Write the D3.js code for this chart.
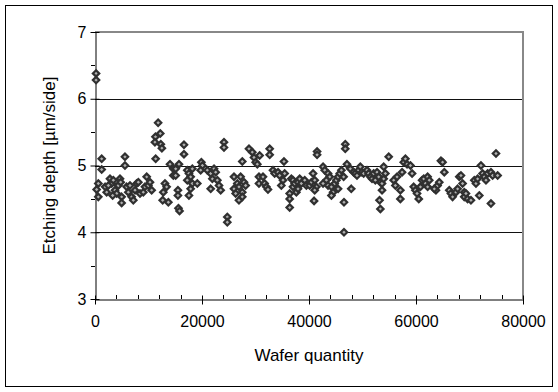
<!DOCTYPE html>
<html>
<head>
<meta charset="utf-8">
<script src="https://cdn.jsdelivr.net/npm/d3@7"></script>
<style>
  body { margin: 0; background: #fff; }
  svg { display: block; font-family: "Liberation Sans", Arial, sans-serif; }
</style>
</head>
<body>
<svg id="chart" width="558" height="392"></svg>
<script>
// wafer count vs etching depth
const waferQty = [
  200, 200, 1250, 1250, 620, 310, 620, 2180, 2800, 3120, 3740, 3430, 4670, 4360, 4800, 4980, 4980,
  5600, 5600, 4050, 1900, 2500, 3300, 5920, 6230, 6540, 6850, 7160, 7480, 7790, 8100, 8410, 9030,
  9340, 9660, 9970, 10280, 10590, 11340, 11800, 11300, 12200, 11200, 12300, 12500, 13080, 13390,
  12770, 12650, 13710, 14020, 14640, 14640,
  16630, 16630, 15700, 15080, 15080, 15500, 15500, 15600, 15800, 17250, 17560, 17880, 18190, 17250,
  18190, 19120, 17880, 17560, 19880, 20070, 19750, 21000, 21630, 22250, 22560, 21940, 22870, 23180,
  23490, 21630, 24110, 24110, 24730, 24730, 25980, 26600, 25980, 26910, 27220, 27850, 28160, 27530,
  26910, 27530, 26290, 27530, 28780, 29400, 29720, 30030, 30340, 30650, 30650,
  30770, 32650, 32650, 31400, 31710, 32020, 32330, 33270, 33580, 34210, 34520, 35450, 35140, 34830,
  35320, 36390, 36390, 36390, 36700, 37010, 37010, 37330, 37640, 37950, 37950, 38260, 38570, 39200,
  39510, 40130, 40450, 40760, 41070, 41380, 41070, 40950, 41510, 41510, 42630, 42940, 43560, 43880,
  43250, 42630, 43560, 44190, 44500, 44190, 44810, 45120, 45440, 45750, 45440, 46060,
  46780, 46780, 47090, 46470, 46540, 46540, 47720, 48340, 48660, 49280, 48970, 49590, 49900, 50220,
  50840, 51160, 51470, 51780, 52090, 52400, 52720, 53030, 53340, 53650, 53960, 54280, 53960, 53650,
  47900, 53180, 53340, 54900, 55830, 56150, 56460, 57080, 57080, 57400, 57710, 58020, 58330, 58960,
  59270, 59580, 59890, 60200, 60520, 60830, 61140, 61450, 61770,
  62170, 62170, 62480, 63730, 64040, 64350, 63420, 64660, 64970, 65290, 66220, 66530, 66840, 67460,
  67780, 68090, 68400, 68710, 69020, 69020, 69340, 69650, 70270, 70900, 71210, 71520, 71830, 72140,
  72450, 72760, 73080, 73390, 74010, 74320, 74950, 75260, 74010
];
const etchDepth = [
  6.38, 6.28, 5.10, 4.94, 4.73, 4.64, 4.53, 4.60, 4.80, 4.73, 4.63, 4.78, 4.80, 4.70, 4.75, 4.53, 4.44,
  5.13, 5.00, 4.58, 4.68, 4.70, 4.55, 4.68, 4.60, 4.70, 4.53, 4.48, 4.63, 4.73, 4.75, 4.58, 4.60,
  4.68, 4.83, 4.70, 4.75, 4.63, 5.10, 5.64, 5.43, 5.48, 5.35, 5.32, 5.26, 4.73, 4.68,
  4.60, 4.48, 4.45, 5.02, 4.95, 4.85,
  5.31, 5.17, 5.02, 4.95, 4.85, 4.63, 4.55, 4.36, 4.32, 4.93, 4.88, 4.83, 4.95, 4.78,
  4.73, 4.73, 4.65, 4.55, 5.05, 5.00, 4.93, 4.93, 4.88, 4.95, 4.90, 4.80, 4.78, 4.70,
  4.63, 4.65, 5.35, 5.27, 4.23, 4.15, 4.83, 4.73, 4.65, 4.68, 4.83, 4.75, 4.70, 4.60,
  4.48, 4.53, 4.58, 5.06, 5.25, 5.20, 5.12, 5.05, 5.02, 4.83, 4.73,
  5.15, 5.25, 5.16, 4.83, 4.73, 4.68, 4.64, 4.93, 4.88, 4.90, 4.85, 4.88, 4.78, 4.70,
  5.06, 4.58, 4.50, 4.37, 4.80, 4.78, 4.68, 4.73, 4.60, 4.75, 4.65, 4.80, 4.73, 4.78,
  4.70, 4.70, 4.75, 4.88, 4.78, 4.68, 4.63, 4.47, 5.21, 5.16, 4.98, 4.93, 4.88, 4.83,
  4.78, 4.73, 4.70, 4.68, 4.60, 4.55, 4.73, 4.78, 4.83, 4.88, 4.65, 4.93,
  5.32, 5.25, 5.02, 4.83, 4.45, 4.00, 4.95, 4.90, 4.88, 4.93, 4.85, 4.98, 4.90, 4.88,
  4.93, 4.88, 4.83, 4.80, 4.88, 4.78, 4.90, 4.83, 4.75, 4.73, 4.98, 4.88, 4.80, 4.63,
  4.65, 4.48, 4.35, 5.13, 4.78, 4.70, 4.83, 4.63, 4.50, 4.90, 5.05, 5.10, 5.02, 5.00,
  4.88, 4.68, 4.63, 4.58, 4.50, 4.68, 4.78, 4.80, 4.73,
  4.83, 4.68, 4.78, 4.63, 4.70, 4.75, 4.65, 5.07, 5.05, 4.90, 4.63, 4.58, 4.53, 4.60,
  4.65, 4.83, 4.85, 4.73, 4.60, 4.53, 4.58, 4.50, 4.48, 4.78, 4.73, 4.80, 4.55, 5.00,
  4.88, 4.83, 4.78, 4.88, 4.90, 4.85, 5.18, 4.85, 4.43
];
const xTicks = [0, 20000, 40000, 60000, 80000];
const yTicks = [3, 4, 5, 6, 7];
const gridValues = [4, 5, 6];

const svg = d3.select("#chart");
const plotLeft = 95, plotRight = 523, plotTop = 32, plotBottom = 299;

// outer frame
svg.append("rect")
  .attr("x", 5.5).attr("y", 5.5)
  .attr("width", 547).attr("height", 381)
  .attr("fill", "none").attr("stroke", "#000");

const x = d3.scaleLinear().domain([0, 80000]).range([plotLeft, plotRight]);
const y = d3.scaleLinear().domain([3, 7]).range([plotBottom, plotTop]);

// gridlines
svg.append("g").selectAll("line")
  .data(gridValues)
  .enter().append("line")
  .attr("x1", plotLeft).attr("x2", plotRight)
  .attr("y1", d => Math.round(y(d)) + 0.5)
  .attr("y2", d => Math.round(y(d)) + 0.5)
  .attr("stroke", "#111");

// plot border top/right in gray
svg.append("path")
  .attr("d", `M${plotLeft},${plotTop} H${plotRight} V${plotBottom}`)
  .attr("fill", "none")
  .attr("stroke", "#888")
  .attr("stroke-width", 2);

// minor ticks
const yMinor = d3.range(3.5, 7, 1);
svg.append("g").selectAll("line")
  .data(yMinor)
  .enter().append("line")
  .attr("x1", plotLeft - 4).attr("x2", plotLeft)
  .attr("y1", d => Math.round(y(d)) + 0.5)
  .attr("y2", d => Math.round(y(d)) + 0.5)
  .attr("stroke", "#000");

const xMinor = d3.range(4000, 80000, 4000).filter(d => d % 20000 !== 0);
svg.append("g").selectAll("line")
  .data(xMinor)
  .enter().append("line")
  .attr("x1", d => Math.round(x(d)) + 0.5)
  .attr("x2", d => Math.round(x(d)) + 0.5)
  .attr("y1", plotBottom - 4).attr("y2", plotBottom)
  .attr("stroke", "#000");

// axes
const yAxis = svg.append("g")
  .attr("transform", `translate(${plotLeft + 0.5},0)`)
  .call(d3.axisLeft(y).tickValues(yTicks).tickFormat(d3.format("d")).tickSize(0).tickPadding(9));
yAxis.select(".domain").attr("stroke", "#000");
yAxis.selectAll(".tick").append("line")
  .attr("x1", -5).attr("x2", 4).attr("stroke", "#000");
yAxis.selectAll("text")
  .style("font-size", "16px").attr("fill", "#000")
  .attr("font-family", "Liberation Sans, Arial, sans-serif");

const xAxis = svg.append("g")
  .attr("transform", `translate(0,${plotBottom + 0.5})`)
  .call(d3.axisBottom(x).tickValues(xTicks).tickFormat(d3.format("d")).tickSize(0).tickPadding(16));
xAxis.select(".domain").attr("stroke", "#000");
xAxis.selectAll(".tick").append("line")
  .attr("y1", -4).attr("y2", 5).attr("stroke", "#000");
xAxis.selectAll("text")
  .style("font-size", "16px").attr("fill", "#000")
  .attr("font-family", "Liberation Sans, Arial, sans-serif");

// axis titles
svg.append("text")
  .attr("x", (plotLeft + plotRight) / 2).attr("y", 361)
  .attr("text-anchor", "middle")
  .style("font-size", "17px")
  .text("Wafer quantity");

svg.append("text")
  .attr("transform", `translate(55,${(plotTop + plotBottom) / 2}) rotate(-90)`)
  .attr("text-anchor", "middle")
  .style("font-size", "17px")
  .text("Etching depth [µm/side]");

// markers
const pts = waferQty.map((w, i) => ({ w: w, d: etchDepth[i] }));
const h = 3.2;
svg.append("g").selectAll("path")
  .data(pts)
  .enter().append("path")
  .attr("transform", p => `translate(${x(p.w)},${y(p.d)})`)
  .attr("d", `M0,${-h}L${h},0L0,${h}L${-h},0Z`)
  .attr("fill", "#b0b0b0")
  .attr("stroke", "#303030")
  .attr("stroke-width", 2.2);
</script>
</body>
</html>
